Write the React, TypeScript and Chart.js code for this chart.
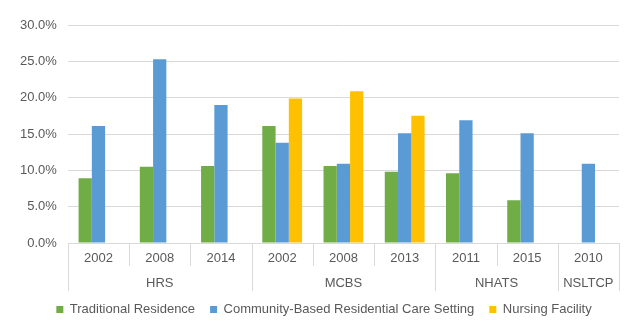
import React, { useEffect, useRef } from "react";
import { Chart, registerables } from "chart.js";

Chart.register(...registerables);

const years = ["2002", "2008", "2014", "2002", "2008", "2013", "2011", "2015", "2010"];
const groups = ["HRS", "MCBS", "NHATS", "NSLTCP"];
const groupSpans = [3, 3, 2, 1];
const traditional = [8.9, 10.5, 10.6, 16.1, 10.6, 9.8, 9.6, 5.9, null];
const community = [16.1, 25.3, 19.0, 13.8, 10.9, 15.1, 16.9, 15.1, 10.9];
const nursing = [null, null, null, 19.9, 20.9, 17.5, null, null, null];
const seriesNames = ["Traditional Residence", "Community-Based Residential Care Setting", "Nursing Facility"];
const yTicks = [0, 5, 10, 15, 20, 25, 30];

const FONT = "'Liberation Sans', Arial, sans-serif";
const TEXT = "#595959";
const GRID = "#d9d9d9";

const groupPlugin = {
  id: "groupPlugin",
  afterLayout(chart: any) {
    if (chart.legend) {
      chart.legend.left += 10;
      chart.legend.right += 10;
    }
  },
  afterDraw(chart: any) {
    const ctx = chart.ctx;
    const x = chart.scales.x;
    const area = chart.chartArea;
    const n = years.length;
    const cw = x.width / n;
    const bottom = area.bottom;
    ctx.save();
    ctx.strokeStyle = GRID;
    ctx.lineWidth = 1;
    ctx.beginPath();
    ctx.moveTo(x.left, Math.round(bottom) + 0.5);
    ctx.lineTo(x.right, Math.round(bottom) + 0.5);
    ctx.stroke();
    const groupStarts = new Set<number>();
    let idx = 0;
    groupStarts.add(0);
    groupSpans.forEach((s) => {
      idx += s;
      groupStarts.add(idx);
    });
    for (let i = 0; i <= n; i++) {
      const px = Math.round(x.getPixelForValue(i) - cw / 2) + 0.5;
      const len = groupStarts.has(i) ? 48 : 23;
      ctx.beginPath();
      ctx.moveTo(px, bottom);
      ctx.lineTo(px, bottom + len);
      ctx.stroke();
    }
    ctx.fillStyle = TEXT;
    ctx.font = `13px ${FONT}`;
    ctx.textAlign = "center";
    ctx.textBaseline = "middle";
    let start = 0;
    groups.forEach((g, gi) => {
      const end = start + groupSpans[gi] - 1;
      const cx = (x.getPixelForValue(start) + x.getPixelForValue(end)) / 2;
      ctx.fillText(g, cx, bottom + 40);
      start += groupSpans[gi];
    });
    ctx.restore();
  },
};

export default function App() {
  const ref = useRef<HTMLCanvasElement | null>(null);
  useEffect(() => {
    document.body.style.margin = "0";
    const chart = new Chart(ref.current as HTMLCanvasElement, {
      type: "bar",
      data: {
        labels: years,
        datasets: [
          { label: seriesNames[0], data: traditional as any, backgroundColor: "#70AD47" },
          { label: seriesNames[1], data: community as any, backgroundColor: "#5B9BD5" },
          { label: seriesNames[2], data: nursing as any, backgroundColor: "#FFC000" },
        ],
      },
      options: {
        animation: false,
        responsive: true,
        maintainAspectRatio: false,
        datasets: { bar: { categoryPercentage: 0.65, barPercentage: 1.0 } },
        layout: { padding: { top: 25, right: 19, bottom: 9, left: 9 } },
        plugins: {
          tooltip: { enabled: false },
          legend: {
            position: "bottom",
            labels: {
              boxWidth: 7,
              boxHeight: 7,
              padding: 15,
              color: TEXT,
              font: { family: FONT, size: 13 },
            },
          },
        },
        scales: {
          x: {
            grid: { display: false, drawTicks: false },
            border: { display: false },
            ticks: { color: TEXT, font: { family: FONT, size: 13 }, padding: 8, autoSkip: false, maxRotation: 0 },
            afterFit(scale: any) {
              scale.height = 45;
            },
          },
          y: {
            min: 0,
            max: 30,
            afterBuildTicks(scale: any) {
              scale.ticks = yTicks.map((v) => ({ value: v }));
            },
            grid: { color: GRID, drawTicks: false },
            border: { display: false },
            ticks: {
              color: TEXT,
              font: { family: FONT, size: 13 },
              padding: 11,
              callback: (v: any) => Number(v).toFixed(1) + "%",
            },
          },
        },
      },
      plugins: [groupPlugin],
    });
    return () => chart.destroy();
  }, []);
  return (
    <div style={{ width: 638, height: 335, position: "relative" }}>
      <canvas ref={ref} />
    </div>
  );
}
